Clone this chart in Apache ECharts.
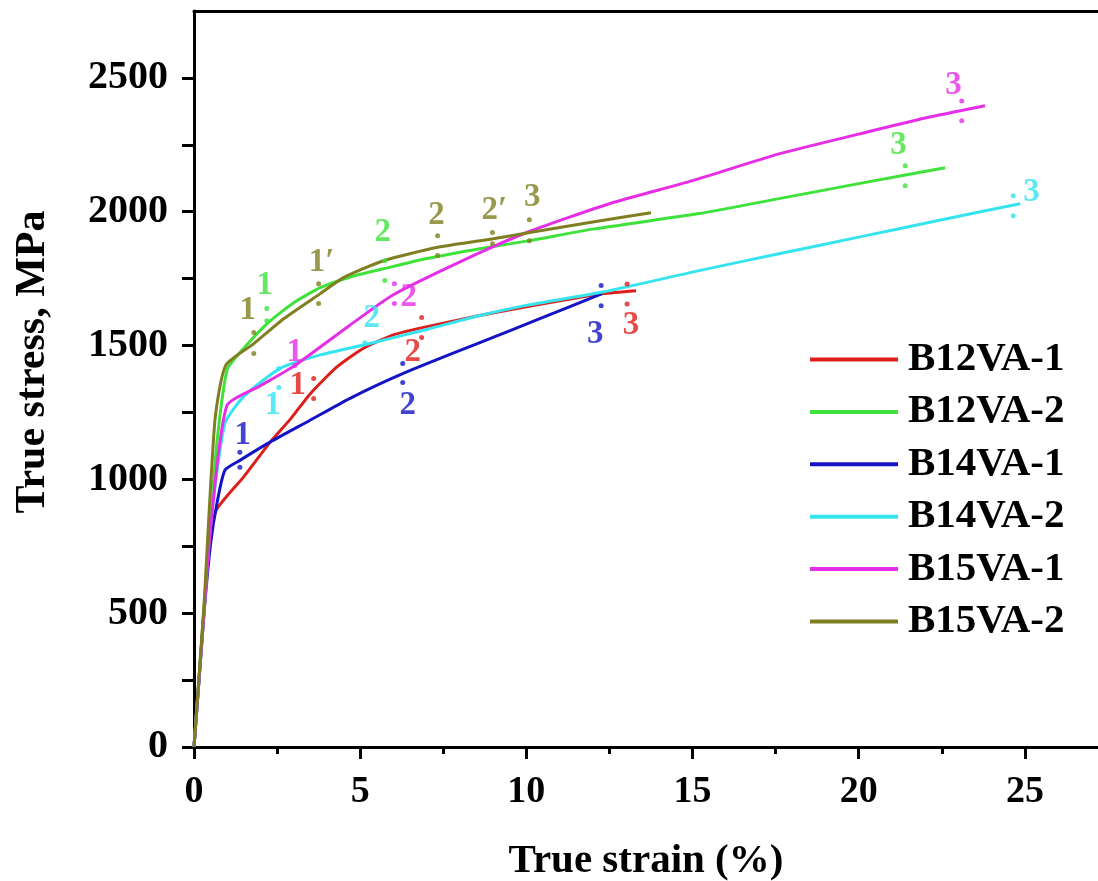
<!DOCTYPE html>
<html>
<head>
<meta charset="utf-8">
<script src="https://cdn.jsdelivr.net/npm/echarts@6/dist/echarts.min.js"></script>
<style>
  html, body { margin: 0; padding: 0; background: #fff; }
  #main { width: 1098px; height: 881px; }
</style>
</head>
<body>
<div id="main"></div>
<script>
// curves: [true strain %, true stress MPa]
var b12va1 = [[0,0],[0.15,250],[0.3,500],[0.45,760],[0.67,885],[1.5,1010],[2.3,1140],[2.9,1225],[3.5,1320],[4.3,1420],[5.1,1490],[6,1540],[6.9,1568],[8.6,1612],[10,1645],[11.5,1678],[12.3,1694],[13.3,1705]];
var b12va2 = [[0,0],[0.15,260],[0.3,520],[0.5,850],[0.7,1150],[1.0,1410],[1.5,1490],[2.2,1582],[3,1660],[3.8,1716],[4.8,1760],[5.7,1787],[7,1825],[8.6,1862],[10.1,1892],[12,1935],[15.2,1993],[17.6,2049],[20,2105],[22.6,2164]];
var b14va1 = [[0,0],[0.15,250],[0.3,500],[0.5,760],[0.69,910],[0.93,1034],[1.38,1071],[2.3,1140],[3.48,1220],[4.68,1302],[6.28,1395],[8.6,1511],[10.5,1605],[12.28,1694]];
var b14va2 = [[0,0],[0.15,250],[0.3,500],[0.5,830],[0.93,1209],[1.5,1310],[2.58,1414],[3.8,1465],[5.2,1505],[7,1560],[8.6,1612],[10,1650],[12.3,1700],[15.2,1780],[17.6,1843],[20,1905],[22.5,1970],[24.86,2030]];
var b15va1 = [[0,0],[0.15,250],[0.3,500],[0.5,820],[0.99,1276],[2,1350],[3.03,1425],[4.68,1575],[6,1690],[8.6,1847],[10.15,1929],[12.5,2030],[15,2116],[17.6,2216],[20,2290],[22,2350],[23.8,2396]];
var b15va2 = [[0,0],[0.15,260],[0.3,530],[0.63,1220],[0.95,1425],[1.8,1507],[2.7,1600],[3.8,1694],[4.5,1754],[5.7,1817],[7.3,1866],[9,1899],[10.1,1922],[12,1962],[13.75,1996]];

// stage labels [x, y, text] and marker dots [x, y]
var b12va1Tags = [[3.12,1351,'1'],[6.58,1474,'2'],[13.15,1575,'3']];
var b12va1Dots = [[3.6,1377],[3.6,1302],[6.85,1605],[6.85,1530],[13.03,1730],[13.03,1655]];
var b12va2Tags = [[2.13,1724,'1'],[5.68,1922,'2'],[21.2,2246,'3']];
var b12va2Dots = [[2.19,1638],[2.19,1593],[5.74,1817],[5.74,1743],[21.4,2172],[21.4,2097]];
var b14va1Tags = [[1.47,1164,'1'],[6.43,1276,'2'],[12.07,1541,'3']];
var b14va1Dots = [[1.38,1101],[1.38,1045],[6.28,1433],[6.28,1362],[12.25,1724],[12.25,1649]];
var b14va2Tags = [[2.37,1276,'1'],[5.35,1601,'2'],[25.2,2071,'3']];
var b14va2Dots = [[2.55,1414],[2.55,1343],[5.14,1510],[24.65,2060],[24.65,1985]];
var b15va1Tags = [[3.03,1474,'1'],[6.46,1679,'2'],[22.85,2470,'3']];
var b15va1Dots = [[3.03,1425],[6.03,1731],[6.03,1657],[23.1,2414],[23.1,2340]];
var b15va2Tags = [[1.62,1631,'1'],[3.84,1810,'1\u2032'],[7.3,1985,'2'],[9.04,2004,'2\u2032'],[10.18,2052,'3']];
var b15va2Dots = [[1.8,1549],[1.8,1470],[3.75,1731],[3.75,1657],[7.33,1910],[7.33,1836],[8.98,1922],[8.98,1880],[10.09,1970],[10.09,1892]];

var names = ['B12VA-1','B12VA-2','B14VA-1','B14VA-2','B15VA-1','B15VA-2'];
var colors = ['#dd1f1c','#3ee23a','#1414c4','#36e4ef','#e52ee6','#7f7f22'];
var curves = [b12va1, b12va2, b14va1, b14va2, b15va1, b15va2];
var tags = [b12va1Tags, b12va2Tags, b14va1Tags, b14va2Tags, b15va1Tags, b15va2Tags];
var dots = [b12va1Dots, b12va2Dots, b14va1Dots, b14va2Dots, b15va1Dots, b15va2Dots];

var xMajor = [0,5,10,15,20,25];
var xMinor = [2.5,7.5,12.5,17.5,22.5];
var yLabels = [0,500,1000,1500,2000,2500];
var yTicks = [0,250,500,750,1000,1250,1500,1750,2000,2250,2500];

var font = 'Liberation Serif';

var series = [];
for (var i = 0; i < names.length; i++) {
    series.push({
        name: names[i],
        type: 'line',
        data: curves[i],
        showSymbol: false,
        smooth: 0.2,
        lineStyle: { width: 3, color: colors[i] },
        itemStyle: { color: colors[i] },
        z: 3
    });
    series.push({
        name: names[i] + ' dots',
        type: 'scatter',
        data: dots[i],
        symbolSize: 5,
        itemStyle: { color: colors[i] },
        z: 4
    });
    series.push({
        name: names[i] + ' tags',
        type: 'scatter',
        data: tags[i],
        symbolSize: 0,
        label: {
            show: true,
            position: 'inside',
            formatter: function (p) { return p.value[2]; },
            fontFamily: font,
            fontWeight: 'bold',
            fontSize: 33,
            color: colors[i]
        },
        z: 5
    });
}

var chart = echarts.init(document.getElementById('main'));
var option = {
    backgroundColor: '#fff',
    animation: false,
    grid: { left: 194, right: 0, top: 11, bottom: 134, outerBoundsMode: 'none' },
    legend: {
        data: names,
        orient: 'vertical',
        left: 810,
        top: 339,
        padding: 0,
        icon: 'rect',
        itemWidth: 88,
        itemHeight: 4,
        itemGap: 11.4,
        textStyle: { fontFamily: font, fontWeight: 'bold', fontSize: 41, lineHeight: 41, color: '#000', padding: [0, 0, 0, 5] }
    },
    xAxis: [{
        type: 'value',
        min: 0,
        max: 27.2,
        interval: 5,
        name: 'True strain (%)',
        nameLocation: 'middle',
        nameGap: 94,
        nameTextStyle: { fontFamily: font, fontWeight: 'bold', fontSize: 41, color: '#000' },
        axisLine: { lineStyle: { color: '#000', width: 3 } },
        axisTick: { customValues: xMajor, length: 12, lineStyle: { width: 3, color: '#000' } },
        axisLabel: { customValues: xMajor, margin: 26, fontFamily: font, fontWeight: 'bold', fontSize: 38, color: '#000' },
        splitLine: { show: false }
    }, {
        type: 'value',
        min: 0,
        max: 27.2,
        position: 'bottom',
        axisLine: { show: false },
        axisTick: { customValues: xMinor, length: 7, lineStyle: { width: 3, color: '#000' } },
        axisLabel: { show: false },
        splitLine: { show: false }
    }, {
        type: 'value',
        min: 0,
        max: 27.2,
        position: 'top',
        axisLine: { lineStyle: { color: '#000', width: 3 } },
        axisTick: { show: false },
        axisLabel: { show: false },
        splitLine: { show: false }
    }],
    yAxis: {
        type: 'value',
        min: 0,
        max: 2750,
        interval: 250,
        name: 'True stress, MPa',
        nameLocation: 'middle',
        nameGap: 140,
        nameTextStyle: { fontFamily: font, fontWeight: 'bold', fontSize: 42, color: '#000', padding: [0, 0, 0, 34] },
        axisLine: { lineStyle: { color: '#000', width: 3 } },
        axisTick: { customValues: yTicks, length: 12, lineStyle: { width: 3, color: '#000' } },
        axisLabel: {
            customValues: yLabels, margin: 26, fontFamily: font, fontWeight: 'bold', fontSize: 40, color: '#000',
            formatter: function (v) { return String(v); }
        },
        splitLine: { show: false }
    },
    series: series
};
chart.setOption(option);
</script>
</body>
</html>
